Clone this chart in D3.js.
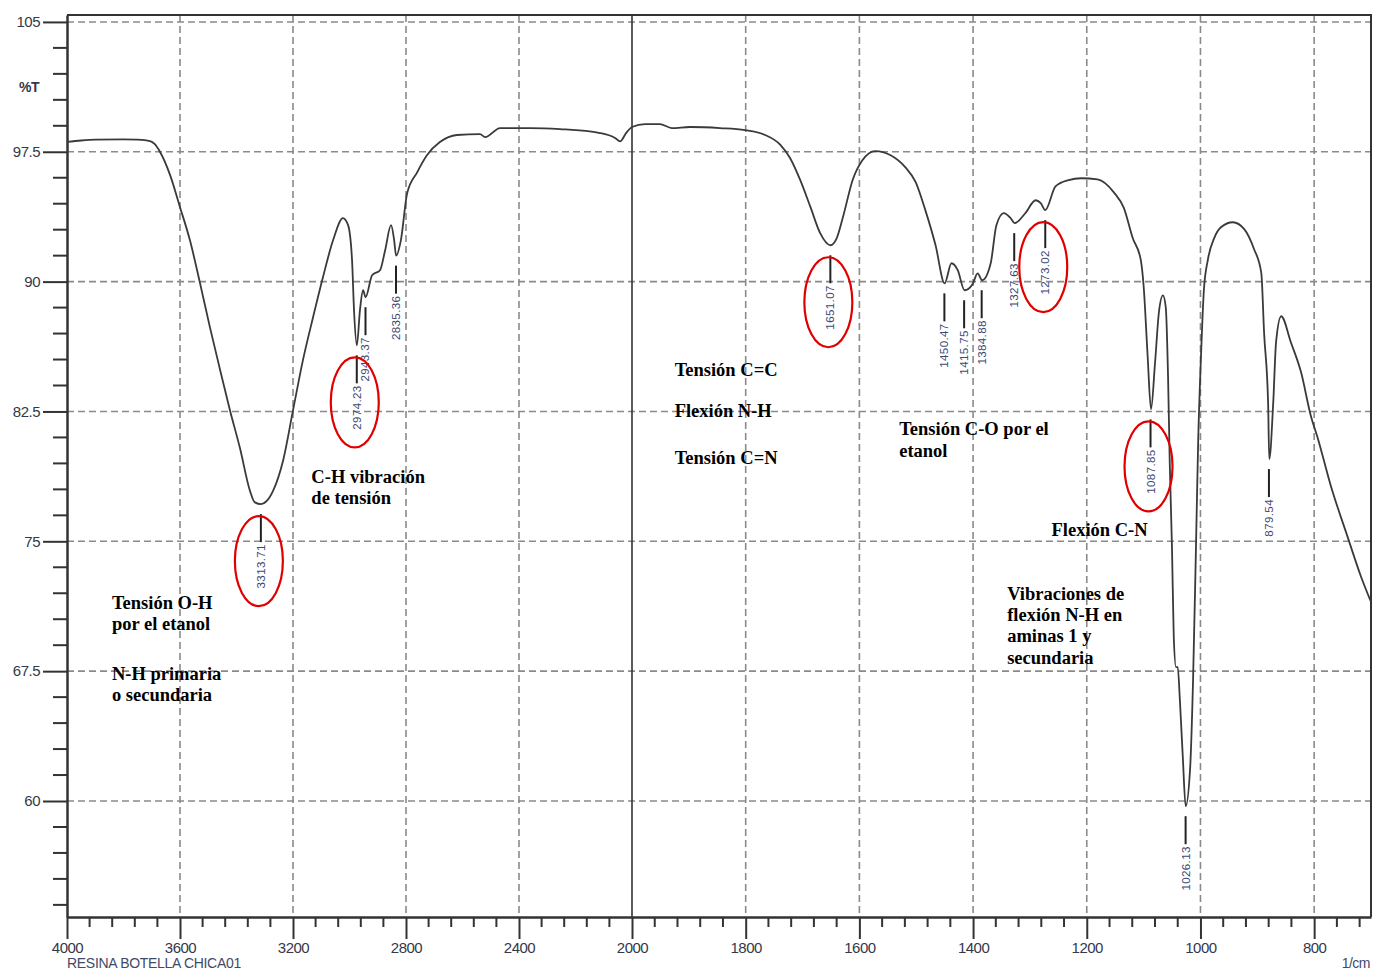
<!DOCTYPE html>
<html>
<head>
<meta charset="utf-8">
<script src="https://cdn.jsdelivr.net/npm/d3@7"></script>
<style>
  body { margin: 0; background: #fff; }
  svg { display: block; }
</style>
</head>
<body>
<div id="chart"></div>
<script>
// IR spectrum - RESINA BOTELLA CHICA01

// spectrum trace (wavenumber 1/cm, %T)
var waveNumbers = [4000, 3950, 3900, 3800, 3750, 3706, 3690, 3671, 3635, 3600, 3565, 3529, 3494, 3458, 3423, 3388,
  3352, 3335, 3313, 3295, 3271, 3235, 3200, 3165, 3129, 3094, 3058, 3023, 3005, 2991, 2984, 2974, 2963, 2952, 2943,
  2920, 2892, 2874, 2853, 2842, 2835, 2818, 2796, 2761, 2726, 2680, 2620, 2538, 2520, 2467, 2361, 2255, 2113, 2060,
  2042, 2021, 2000, 1977, 1951, 1930, 1898, 1845, 1801, 1766, 1739, 1722, 1704, 1686, 1669, 1651, 1640, 1628, 1612,
  1595, 1572, 1545, 1519, 1501, 1484, 1466, 1450, 1438, 1427, 1415, 1401, 1392, 1384, 1369, 1359, 1346, 1334, 1327,
  1308, 1290, 1281, 1273, 1255, 1232, 1210, 1181, 1152, 1135, 1119, 1105, 1100, 1093, 1087, 1080, 1073, 1066, 1061,
  1057, 1054, 1050, 1047, 1043, 1040, 1036, 1031, 1026, 1018, 1013, 1008, 1004, 999, 994, 987, 976, 964, 943, 923,
  906, 893, 888, 881, 879, 872, 867, 858, 841, 823, 806, 794, 771, 741, 718, 700];
var transmittance = [98.07, 98.15, 98.2, 98.22, 98.2, 98.12, 97.95, 97.5, 96.15, 94.3, 92.4, 89.9, 87.36, 84.9, 82.56, 80.4,
  77.9, 77.25, 77.15, 77.3, 77.9, 79.67, 82.56, 85.45, 87.94, 90.25, 92.4, 93.67, 93.26, 91.24, 88.35, 86.32, 88.35, 89.5, 89.1,
  90.37, 90.66, 91.8, 93.26, 92.4, 91.5, 92.4, 95.1, 96.3, 97.3, 98.06, 98.47, 98.52, 98.35, 98.87, 98.87, 98.81, 98.58, 98.3,
  98.1, 98.58, 98.93, 99.1, 99.1, 98.87, 98.93, 98.87, 98.75, 98.47, 97.9, 97.14, 95.86, 94.3, 92.8, 92.1, 92.5, 93.84, 95.86,
  97.0, 97.54, 97.3, 96.6, 95.75, 94.13, 92.1, 89.9, 91.06, 90.66, 89.5, 89.85, 90.48, 90.08, 91.06, 93.26, 93.96, 93.67, 93.38,
  93.96, 94.7, 94.53, 94.13, 95.5, 95.86, 95.97, 95.9, 95.14, 94.27, 92.5, 91.26, 89.76, 85.75, 82.62, 85.27, 88.26, 89.2, 88.5,
  84.5, 79.5, 74.5, 69.5, 67.73, 67.73, 65.7, 62.5, 59.7, 62, 67, 74.5, 80.8, 85.75, 89.5, 91.26, 92.5, 93.14, 93.43, 93.03,
  91.9, 90.5, 87, 83, 79.75, 83, 86.5, 88, 86.5, 84.76, 82.27, 81, 78.24, 75.24, 73, 71.5];

// peak picks
var peakWn = [3313.71, 2974.23, 2943.37, 2835.36, 1651.07, 1450.47, 1415.75, 1384.88, 1327.63, 1273.02, 1087.85, 1026.13, 879.54];
var peakT = [77.15, 86.32, 89.1, 91.5, 92.1, 89.9, 89.5, 90.08, 93.38, 94.13, 82.62, 59.7, 79.75];
var peakText = ["3313.71", "2974.23", "2943.37", "2835.36", "1651.07", "1450.47", "1415.75", "1384.88", "1327.63", "1273.02", "1087.85", "1026.13", "879.54"];
var circledPeaks = ["3313.71", "2974.23", "1651.07", "1273.02", "1087.85"];

// axis ticks
var yMajor = [105, 97.5, 90, 82.5, 75, 67.5, 60];
var xMajor = [4000, 3600, 3200, 2800, 2400, 2000, 1800, 1600, 1400, 1200, 1000, 800];

// notes written on the chart: wavenumber at left edge, %T at first baseline, lines
var notes = [
  {wn: 3841, t: 71.1, lines: ["Tensión O-H", "por el etanol"]},
  {wn: 3841, t: 67.0, lines: ["N-H primaria", "o secundaria"]},
  {wn: 3135, t: 78.37, lines: ["C-H vibración", "de tensión"]},
  {wn: 1925, t: 84.53, lines: ["Tensión C=C"]},
  {wn: 1925, t: 82.16, lines: ["Flexión N-H"]},
  {wn: 1925, t: 79.44, lines: ["Tensión C=N"]},
  {wn: 1530, t: 81.12, lines: ["Tensión C-O por el", "etanol"]},
  {wn: 1262, t: 75.28, lines: ["Flexión C-N"]},
  {wn: 1340, t: 71.63, lines: ["Vibraciones de", "flexión N-H en", "aminas 1 y", "secundaria"]}
];

var W = 1373, H = 971;
var plotLeft = 67, plotRight = 1371, plotTop = 15, plotBottom = 917;

var svg = d3.select("#chart").append("svg")
  .attr("width", W)
  .attr("height", H);

// x axis is broken at 2000: different scale on each side
var x = d3.scaleLinear().domain([4000, 2000, 700]).range([plotLeft, 632, plotRight]);
var y = d3.scaleLinear().domain([53.3, 105.4]).range([plotBottom, plotTop]);

var xMinor = d3.range(4000, 2000, -80).concat(d3.range(2000, 699, -40)).filter(d => xMajor.indexOf(d) < 0);
var yMinor = d3.range(105, 53.3, -1.5).filter(d => yMajor.indexOf(+d.toFixed(1)) < 0);

// grid
var grid = svg.append("g");
grid.selectAll(".hg").data(yMajor).enter().append("line")
  .attr("x1", plotLeft).attr("x2", plotRight)
  .attr("y1", d => y(d)).attr("y2", d => y(d))
  .attr("stroke", "#8a8a8a").attr("stroke-width", 1.6).attr("stroke-dasharray", "7,4");
grid.selectAll(".vg").data(xMajor.filter(d => d != 4000 && d != 2000)).enter().append("line")
  .attr("x1", d => x(d)).attr("x2", d => x(d))
  .attr("y1", plotTop).attr("y2", plotBottom)
  .attr("stroke", "#8a8a8a").attr("stroke-width", 1.6).attr("stroke-dasharray", "7,4");
// solid line at the scale change
grid.append("line")
  .attr("x1", x(2000)).attr("x2", x(2000))
  .attr("y1", plotTop).attr("y2", plotBottom)
  .attr("stroke", "#333").attr("stroke-width", 1.6);

// frame top/right
svg.append("path")
  .attr("d", `M${plotLeft},${plotTop}H${plotRight}V${plotBottom}`)
  .attr("fill", "none").attr("stroke", "#333").attr("stroke-width", 2);

// y axis
var yAxis = svg.append("g").attr("transform", `translate(${plotLeft},0)`)
  .call(d3.axisLeft(y).tickValues(yMajor).tickSize(24).tickSizeOuter(0).tickPadding(3).tickFormat(d => d));
yAxis.append("g").selectAll("line").data(yMinor).enter().append("line")
  .attr("x1", -14).attr("x2", 0)
  .attr("y1", d => y(d)).attr("y2", d => y(d))
  .attr("stroke", "#333").attr("stroke-width", 2);

// x axis
var xAxis = svg.append("g").attr("transform", `translate(0,${plotBottom})`)
  .call(d3.axisBottom(x).tickValues(xMajor).tickSize(22).tickSizeOuter(0).tickPadding(3).tickFormat(d => d));
xAxis.append("g").selectAll("line").data(xMinor).enter().append("line")
  .attr("x1", d => x(d)).attr("x2", d => x(d))
  .attr("y1", 0).attr("y2", 10)
  .attr("stroke", "#333").attr("stroke-width", 2);

svg.selectAll(".domain").attr("stroke", "#333").attr("stroke-width", 2.5);
svg.selectAll(".tick line").attr("stroke", "#333").attr("stroke-width", 2);
svg.selectAll(".tick text")
  .attr("fill", "#343849")
  .style("font-family", "'Liberation Sans', Arial, sans-serif")
  .style("font-size", "15px")
  .style("letter-spacing", "-0.5px");

svg.append("text")
  .attr("x", 29).attr("y", 92)
  .attr("text-anchor", "middle")
  .attr("fill", "#343849")
  .style("font-family", "'Liberation Sans', Arial, sans-serif")
  .style("font-size", "14px")
  .style("font-weight", "bold")
  .style("letter-spacing", "-0.5px")
  .text("%T");

svg.append("text")
  .attr("x", plotLeft).attr("y", 968)
  .attr("fill", "#414a68")
  .style("font-family", "'Liberation Sans', Arial, sans-serif")
  .style("font-size", "14px")
  .style("letter-spacing", "-0.3px")
  .text("RESINA BOTELLA CHICA01");

svg.append("text")
  .attr("x", plotRight - 1).attr("y", 968)
  .attr("text-anchor", "end")
  .attr("fill", "#414a68")
  .style("font-family", "'Liberation Sans', Arial, sans-serif")
  .style("font-size", "14px")
  .style("letter-spacing", "-0.5px")
  .text("1/cm");

// spectrum
var spectrum = waveNumbers.map((w, i) => ({wn: w, t: transmittance[i]}));
var line = d3.line()
  .x(d => x(d.wn))
  .y(d => y(d.t))
  .curve(d3.curveMonotoneX);
svg.append("path")
  .datum(spectrum)
  .attr("d", line)
  .attr("fill", "none")
  .attr("stroke", "#3a3a3a")
  .attr("stroke-width", 1.8);

// peak markers
var peaks = peakWn.map((w, i) => ({wn: w, t: peakT[i], label: peakText[i]}));
var pk = svg.append("g").selectAll("g").data(peaks).enter().append("g");
pk.append("line")
  .attr("x1", d => x(d.wn)).attr("x2", d => x(d.wn))
  .attr("y1", d => y(d.t) + 10).attr("y2", d => y(d.t) + 38)
  .attr("stroke", "#222").attr("stroke-width", 2);
pk.append("text")
  .attr("transform", d => `translate(${x(d.wn) + 4},${y(d.t) + 40}) rotate(-90)`)
  .attr("text-anchor", "end")
  .attr("fill", "#3b4875")
  .style("font-family", "'Liberation Sans', Arial, sans-serif")
  .style("font-size", "11.5px")
  .style("letter-spacing", "0.4px")
  .text(d => d.label);

// red ellipses round the discussed peaks
svg.append("g").selectAll("ellipse")
  .data(peaks.filter(d => circledPeaks.indexOf(d.label) >= 0))
  .enter().append("ellipse")
  .attr("cx", d => x(d.wn) - 2)
  .attr("cy", d => y(d.t) + 57)
  .attr("rx", 24).attr("ry", 45)
  .attr("fill", "none")
  .attr("stroke", "#e00000")
  .attr("stroke-width", 2.2);

// notes
notes.forEach(function(n) {
  var t = svg.append("text")
    .attr("x", x(n.wn))
    .attr("y", y(n.t))
    .attr("fill", "#000")
    .style("font-family", "'Liberation Serif', 'Times New Roman', serif")
    .style("font-size", "18.5px")
    .style("font-weight", "bold");
  n.lines.forEach(function(l, i) {
    t.append("tspan").attr("x", x(n.wn)).attr("dy", i == 0 ? 0 : 21.3).text(l);
  });
});
</script>
</body>
</html>
